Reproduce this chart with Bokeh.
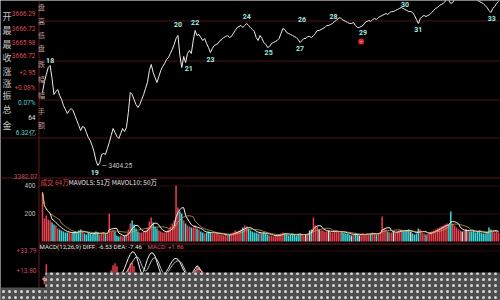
import pandas as pd
from bokeh.plotting import figure
from bokeh.models import Range1d
from bokeh.core.properties import value
from bokeh.embed import file_html
from bokeh.resources import INLINE

# ---------------- data ----------------
price = [
    3550, 3572, 3586, 3600, 3604, 3578, 3546, 3552, 3556, 3544,
    3536, 3524, 3516, 3508, 3514, 3518, 3514, 3504, 3494, 3484,
    3474, 3482, 3480, 3470, 3460, 3454, 3444, 3432, 3414, 3404.25,
    3410, 3426, 3428, 3426, 3438, 3450, 3464, 3478, 3470, 3462,
    3458, 3468, 3478, 3472, 3480, 3510, 3550, 3546, 3536, 3526,
    3520, 3526, 3536, 3546, 3558, 3570, 3594, 3606, 3590, 3580,
    3570, 3582, 3594, 3602, 3608, 3616, 3620, 3628, 3636, 3646,
    3658, 3664, 3624, 3600, 3622, 3610, 3628, 3634, 3628, 3654,
    3674, 3664, 3666, 3660, 3654, 3658, 3648, 3640, 3630, 3638,
    3644, 3646, 3648, 3654, 3656, 3660, 3662, 3664, 3660, 3662,
    3668, 3674, 3680, 3682, 3684, 3680, 3684, 3688, 3684, 3680,
    3676, 3672, 3660, 3654, 3664, 3658, 3650, 3646, 3640, 3642,
    3648, 3650, 3652, 3654, 3658, 3668, 3678, 3676, 3670, 3668,
    3666, 3664, 3662, 3660, 3656, 3650, 3654, 3658, 3658, 3662,
    3662, 3660, 3664, 3668, 3674, 3674, 3676, 3678, 3680, 3684,
    3684, 3686, 3688, 3692, 3694, 3698, 3700, 3696, 3694, 3692,
    3690, 3688, 3688, 3690, 3684, 3680, 3680, 3682, 3684, 3690,
    3692, 3694, 3692, 3696, 3698, 3696, 3700, 3702, 3704, 3706,
    3708, 3706, 3710, 3712, 3712, 3714, 3716, 3718, 3720, 3718,
    3716, 3714, 3712, 3712, 3710, 3704, 3696, 3688, 3698, 3702,
    3704, 3702, 3704, 3706, 3710, 3714, 3718, 3720, 3724, 3726,
    3728, 3732, 3738, 3734, 3728, 3730, 3736, 3740, 3742, 3744,
    3744, 3746, 3746, 3748, 3744, 3742, 3740, 3738, 3734, 3732,
    3730, 3728, 3724, 3720, 3714, 3710, 3718, 3722, 3728, 3732,
]

volume = [
    350, 164, 186, 157, 150, 136, 121, 114, 93, 86,
    79, 71, 64, 64, 64, 57, 64, 71, 64, 79,
    86, 71, 57, 50, 64, 57, 50, 57, 71, 64,
    50, 57, 64, 57, 50, 200, 71, 79, 71, 43,
    36, 43, 36, 43, 50, 86, 129, 150, 121, 93,
    71, 64, 64, 71, 79, 100, 143, 171, 136, 107,
    93, 79, 71, 64, 64, 71, 86, 107, 129, 150,
    400, 243, 214, 200, 150, 129, 114, 107, 100, 100,
    114, 93, 86, 71, 64, 57, 64, 71, 64, 57,
    57, 64, 57, 50, 50, 43, 50, 43, 50, 57,
    64, 79, 71, 79, 86, 100, 114, 107, 93, 79,
    71, 64, 64, 57, 64, 57, 64, 57, 50, 43,
    43, 36, 43, 43, 50, 57, 64, 57, 50, 43,
    50, 57, 50, 43, 50, 57, 50, 43, 50, 57,
    79, 86, 171, 114, 107, 86, 79, 79, 71, 71,
    79, 71, 64, 71, 79, 71, 64, 71, 64, 57,
    57, 50, 43, 50, 57, 50, 43, 50, 57, 50,
    57, 50, 57, 64, 57, 50, 57, 64, 179, 93,
    86, 71, 64, 64, 71, 64, 71, 79, 86, 79,
    71, 79, 86, 71, 57, 50, 57, 93, 86, 64,
    57, 50, 57, 64, 71, 79, 86, 93, 100, 107,
    114, 121, 129, 121, 214, 129, 114, 100, 86, 79,
    71, 79, 86, 79, 71, 71, 79, 64, 71, 79,
    64, 57, 57, 64, 100, 86, 71, 64, 71, 64,
]

diff = [
    5, 4, 3, 2, 1, 0, -1, -2, -3, -4,
    -5, -6, -6, -7, -7, -8, -8, -8, -7, -7,
    -6, -6, -5, -5, -4, -4, -3, -3, -2, -1,
    0, 1, 2, 3, 4, 5, 6, 7, 8, 9,
    10, 11, 12, 16, 21, 26, 30, 32.5, 32, 29,
    23, 16, 10, 13, 19, 25, 29, 31.5, 31, 28,
    22, 16, 11, 9, 11, 13, 16, 20, 23, 25.5,
    25.8, 25, 22, 18, 14, 11, 9, 8, 10, 13,
    16, 18.5, 17, 14, 11, 9, 8, 7, 6, 5,
]
dea = [
    6, 6, 5, 5, 4, 4, 3, 3, 2, 2,
    1, 1, 0, 0, -1, -1, -2, -2, -2, -3,
    -3, -3, -3, -3, -3, -3, -3, -3, -3, -2,
    -2, -2, -1, -1, 0, 0, 1, 2, 3, 4,
    5, 6, 7, 9, 12, 15, 19, 22, 25, 27.5,
    27, 24, 19, 15, 13, 15, 19, 23, 26, 26.5,
    25, 21, 16, 12, 10, 11, 13, 16, 19, 21,
    23, 23.5, 23, 21, 17, 13, 10, 9, 9, 11,
    13, 15, 15.5, 14, 12, 10, 8, 7, 6, 5,
]
macd_hist = [
    0, 8, 20, 6, 2, 1, 1, 2, 2, 1,
    1, 2, 1, 1, 2, 1, 1, 2, 1, 1,
    2, 2, 3, 2, 3, 3, 4, 3, 4, 4,
    5, 4, 5, 6, 7, 9, 14, 19, 21, 18,
    12, 8, 9, 11, 13, 16, 21, 22, 18, 10,
    6, 4, 3, 5, 8, 10, 9, 8, 7, 5,
    4, 3, 2, 3, 4, 5, 6, 7, 8, 9,
    8, 7, 6, 5, 4, 3, 4, 6, 9, 12,
    14, 18, 17, 12, 8, 5, 3, 2, 2, 1,
]

peak_labels = ["18", "19", "20", "21", "22", "23", "24", "25", "26", "27", "28", "29", "30", "31", "33"]
peak_idx = [4, 29, 71, 73, 80, 88, 107, 118, 136, 135, 152, 168, 190, 197, 235]
signal_idx = [167]
signal_price = [3652]
low_text = "3404.25"
low_idx = 29

info_names = ["开", "最", "最", "收", "涨", "涨", "振", "总", "金"]
info_values = ["3666.29", "3666.72", "3665.98", "3666.72", "+2.95", "+0.08%", "0.07%", "64", "6.32亿"]
info_units = ["盘", "高", "低", "盘", "跌", "幅", "幅", "手", "额"]
price_floor_label = 3382.07
vol_ticks = [400, 200]
macd_ticks = [33.79, 13.80]
vol_header = "成交 64万"
mavol_header = "MAVOL5: 51万  MAVOL10: 50万"
macd_header = "MACD(12,26,9) DIFF: -6.53 DEA: -7.46"
macd_value = "MACD: +1.86"

# ---------------- layout (pixels) ----------------
W, H = 500, 300
X0_PX, X1_PX = 42, 498
n = len(price)
span = (n - 1) / ((X1_PX - X0_PX) / W)
xs = -X0_PX / W * span

PRICE_TOP, PRICE_PER_PX = 3734.0, 2.0
VOL_BASE_PX, VOL_400_PX = 241, 185
vol_per_px = 400 / (VOL_BASE_PX - VOL_400_PX)
MACD_A_PX, MACD_B_PX = 250, 270
macd_per_px = (macd_ticks[0] - macd_ticks[1]) / (MACD_B_PX - MACD_A_PX)

p = figure(width=W, height=H, output_backend="svg", toolbar_location=None,
           x_range=Range1d(xs, xs + span),
           y_range=Range1d(PRICE_TOP - H * PRICE_PER_PX, PRICE_TOP),
           x_axis_location=None, y_axis_location=None,
           min_border=0, background_fill_color="black",
           border_fill_color="black", outline_line_color=None)
p.grid.visible = False
p.extra_x_ranges = {"pxx": Range1d(0, W)}
p.extra_y_ranges = {
    "px": Range1d(H, 0),
    "vol": Range1d(-(H - VOL_BASE_PX) * vol_per_px, VOL_BASE_PX * vol_per_px),
    "macd": Range1d(macd_ticks[1] - (H - MACD_B_PX) * macd_per_px,
                    macd_ticks[1] + MACD_B_PX * macd_per_px),
}

NUM = value("Roboto")
CJK = value("Noto Sans CJK SC")

# grid / frame lines
p.segment(x0=[38, 38, 38, 0], x1=[W, W, W, W], y0=[20.5, 60.5, 99.5, 137.5], y1=[20.5, 60.5, 99.5, 137.5],
          x_range_name="pxx", y_range_name="px", line_color="#4a1419", line_width=1)
p.segment(x0=[0, 38, 38, 38, 38], x1=[W, W, W, W, W], y0=[177.5, 185.5, 213.5, 243.5, 250.5],
          y1=[177.5, 185.5, 213.5, 243.5, 250.5], x_range_name="pxx", y_range_name="px",
          line_color=["#5a161c", "#2e0c0f", "#2e0c0f", "#7a1c24", "#2e0c0f"], line_width=1)
p.segment(x0=[38.5], x1=[38.5], y0=[0], y1=[H], x_range_name="pxx", y_range_name="px",
          line_color="#6a1a20", line_width=1)

# volume
idx = list(range(n))
vcol = []
for i in idx:
    if i == 0 or price[i] > price[i - 1]:
        vcol.append("#e8404e")
    elif price[i] < price[i - 1]:
        vcol.append("#3ed6d8")
    else:
        vcol.append("#d8d8d8")
p.vbar(x=idx, top=volume, bottom=0, width=0.8, fill_color=vcol, line_color=None,
       y_range_name="vol")
vs = pd.Series(volume, dtype=float)
p.line(idx, vs.rolling(5, min_periods=1).mean(), y_range_name="vol", line_color="#f0f0f0", line_width=1)
p.line(idx, vs.rolling(10, min_periods=1).mean(), y_range_name="vol", line_color="#c8a448",
       line_width=1, line_alpha=0.8)

# macd
midx = list(range(len(diff)))
p.vbar(x=midx, top=macd_hist, bottom=0, width=0.8, fill_color="#e0404a", line_color=None,
       y_range_name="macd")
p.line(midx, diff, y_range_name="macd", line_color="#f4f4f4", line_width=1)
p.line(midx, dea, y_range_name="macd", line_color="#bdbdbd", line_width=1)

# price line
p.line(idx, price, line_color="#f0eaea", line_width=1)

# peak labels
label_dx = [0, -3, 0, 7, 0, 0, 0, 1, 0, 0, 1, 0, 0, 0, 1]
label_dy = [-5, 7, -11, 1, -8, 7, -7, 5, -21, 6, -7, 7, -5, 6, 6]
p.text(x=peak_idx, y=[price[i] for i in peak_idx], text=peak_labels,
       x_offset=label_dx, y_offset=label_dy, text_font=NUM, text_font_style="bold",
       text_font_size="7px", text_color="#a6ece2", text_align="center", text_baseline="middle")
p.text(x=[low_idx], y=[price[low_idx]], text=["— " + low_text], x_offset=4, y_offset=1,
       text_font=NUM, text_font_size="6.5px", text_color="#c8c8c8",
       text_align="left", text_baseline="middle")
p.scatter(signal_idx, signal_price, marker="circle", size=6, fill_color="#d82a30", line_color=None)
p.text(x=signal_idx, y=signal_price, text=["↑"], text_font=NUM, text_font_size="5px",
       text_color="#ffdede", text_align="center", text_baseline="middle")

# checker (transparent area in the reference)
p.quad(left=[45, 0], right=[W, 45], top=[272, 287], bottom=[H, H],
       x_range_name="pxx", y_range_name="px", fill_color="#4e4e4e", line_color=None,
       hatch_pattern="dot", hatch_color="#d8d8d8", hatch_scale=6, hatch_weight=0.6)

# left info panel
name_y = [16, 30, 44, 57, 71, 83, 95, 109, 125]
val_y = [13, 28, 42, 55, 72, 87, 102, 117, 132]
unit_y = [6, 20, 34, 47, 63, 78, 94, 110, 124]
val_col = ["#d84a56"] * 6 + ["#4fd0d0", "#e6e6e6", "#5fd6cc"]
p.text(x=[2] * len(info_names), y=name_y, text=info_names, x_range_name="pxx", y_range_name="px",
       text_font=CJK, text_font_size="9px", text_color="#c4c4c4",
       text_align="left", text_baseline="middle")
p.text(x=[35] * len(info_values), y=val_y, text=info_values, x_range_name="pxx", y_range_name="px",
       text_font=NUM, text_font_size="6.5px", text_color=val_col,
       text_align="right", text_baseline="middle")
p.text(x=[41] * len(info_units), y=unit_y, text=info_units, x_range_name="pxx", y_range_name="px",
       text_font=CJK, text_font_size="7px", text_color="#b89a9a",
       text_align="center", text_baseline="middle")

# axis-like labels
p.text(x=[37], y=[price_floor_label], text=["%.2f" % price_floor_label],
       x_range_name="pxx", text_font=NUM, text_font_size="6.5px", text_color="#c05058",
       text_align="right", text_baseline="middle")
p.text(x=[35, 35], y=vol_ticks, text=[str(v) for v in vol_ticks], x_range_name="pxx",
       y_range_name="vol", text_font=NUM, text_font_size="6.5px", text_color="#bdbdbd",
       text_align="right", text_baseline="middle")
p.text(x=[36, 36], y=macd_ticks, text=["+%.2f" % v for v in macd_ticks], x_range_name="pxx",
       y_range_name="macd", text_font=NUM, text_font_size="6.5px", text_color="#c85060",
       text_align="right", text_baseline="middle")

# pane headers
p.text(x=[40], y=[181], text=[vol_header], x_range_name="pxx", y_range_name="px",
       text_font=CJK, text_font_size="6.5px", text_color="#d84a56",
       text_align="left", text_baseline="middle")
p.text(x=[68], y=[181], text=[mavol_header], x_range_name="pxx", y_range_name="px",
       text_font=CJK, text_font_size="6.5px", text_color="#e8e8e8",
       text_align="left", text_baseline="middle")
p.text(x=[39], y=[246], text=[macd_header], x_range_name="pxx", y_range_name="px",
       text_font=NUM, text_font_size="6.2px", text_color="#e8e8e8",
       text_align="left", text_baseline="middle")
p.text(x=[147], y=[246], text=[macd_value], x_range_name="pxx", y_range_name="px",
       text_font=NUM, text_font_size="6.2px", text_color="#d85a6a",
       text_align="left", text_baseline="middle")

open("out.html", "w").write(file_html(p, INLINE))
